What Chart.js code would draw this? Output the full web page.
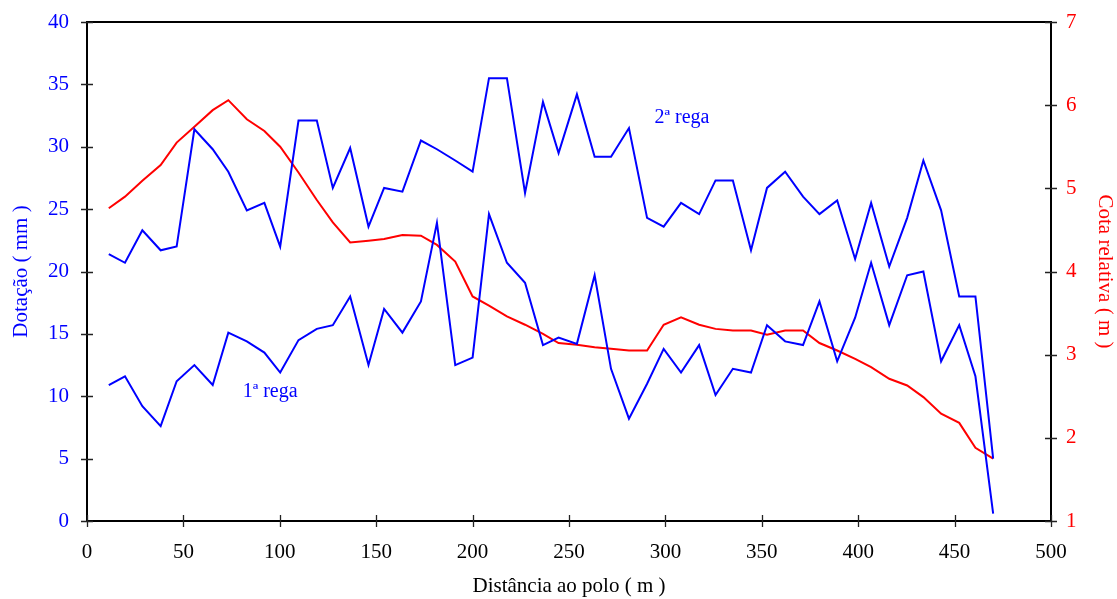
<!DOCTYPE html>
<html>
<head>
<meta charset="utf-8">
<title>Dotação e cota relativa</title>
<script src="https://cdn.jsdelivr.net/npm/chart.js@4/dist/chart.umd.min.js"></script>
<style>
    html, body { margin: 0; padding: 0; background: #fff; }
    #grafico { display: block; }
</style>
</head>
<body>
<canvas id="grafico" width="1117" height="599"></canvas>
<script>
//  Distância ao polo (m) de cada ponto de medição
const distancia = [11.3, 19.7, 28.7, 38.2, 46.5, 55.7, 65.2, 73.3, 82.9, 92, 100.2, 109.7, 119.2,
    127.5, 136.5, 146, 154.1, 163.6, 173.2, 181.5, 191, 200, 208.5, 217.8, 227.2, 236.5,
    244.6, 254.1, 263.3, 271.8, 281.1, 290.5, 299.1, 308.1, 317.5, 326, 335, 344.4, 352.7,
    362.1, 371.4, 379.9, 389.1, 398.4, 406.7, 416.1, 425.4, 433.8, 443, 452.4, 460.8, 470];

//  Dotação (mm) - 1ª rega
const rega1 = [10.9, 11.6, 9.2, 7.6, 11.2, 12.5, 10.9, 15.1, 14.4, 13.5, 11.9, 14.5, 15.4,
    15.7, 18.0, 12.5, 17.0, 15.1, 17.6, 23.9, 12.5, 13.1, 24.6, 20.7, 19.1, 14.1,
    14.7, 14.2, 19.7, 12.2, 8.2, 11.0, 13.8, 11.9, 14.1, 10.1, 12.2, 11.9, 15.7,
    14.4, 14.1, 17.6, 12.8, 16.3, 20.7, 15.7, 19.7, 20.0, 12.8, 15.7, 11.6, 0.6];

//  Dotação (mm) - 2ª rega
const rega2 = [21.4, 20.7, 23.3, 21.7, 22.0, 31.4, 29.8, 28.0, 24.9, 25.5, 22.0, 32.1, 32.1,
    26.7, 29.9, 23.6, 26.7, 26.4, 30.5, 29.8, 28.9, 28.0, 35.5, 35.5, 26.3, 33.6,
    29.5, 34.2, 29.2, 29.2, 31.5, 24.3, 23.6, 25.5, 24.6, 27.3, 27.3, 21.7, 26.7,
    28.0, 26.0, 24.6, 25.7, 21.0, 25.5, 20.4, 24.3, 28.9, 24.9, 18.0, 18.0, 5.0];

//  Cota relativa (m)
const cota = [4.76, 4.90, 5.09, 5.28, 5.55, 5.74, 5.94, 6.06, 5.83, 5.69, 5.50, 5.19, 4.86,
    4.59, 4.35, 4.37, 4.39, 4.44, 4.43, 4.32, 4.12, 3.70, 3.59, 3.46, 3.36, 3.25,
    3.14, 3.12, 3.09, 3.07, 3.05, 3.05, 3.36, 3.45, 3.36, 3.31, 3.29, 3.29, 3.24,
    3.29, 3.29, 3.14, 3.05, 2.95, 2.85, 2.71, 2.63, 2.49, 2.29, 2.18, 1.88, 1.75];

//  Rótulos das curvas: texto, distância, dotação
const rotulos = [
    ['2ª rega', 308.6, 32.3],
    ['1ª rega', 95, 10.4]
];

const AZUL = '#0000ff';
const VERMELHO = '#ff0000';
const FONTE = "'Liberation Serif', 'Times New Roman', serif";

function pontos(valores) {
    return distancia.map((d, i) => ({ x: d, y: valores[i] }));
}

//  Traços que cruzam os eixos + linha de cima da moldura
const tracos = {
    id: 'tracos',
    afterDraw(chart) {
        const { ctx, chartArea: { top, left, right, bottom }, scales } = chart;
        ctx.save();
        ctx.strokeStyle = '#000';
        ctx.lineWidth = 2;
        ctx.beginPath();
        ctx.moveTo(left - 1, top);
        ctx.lineTo(right + 1, top);
        ctx.stroke();

        ctx.lineWidth = 1.3;
        ctx.strokeStyle = '#222';
        ctx.beginPath();
        scales.x.ticks.forEach(t => {
            const px = Math.round(scales.x.getPixelForValue(t.value)) + 0.5;
            ctx.moveTo(px, bottom - 6);
            ctx.lineTo(px, bottom + 6);
        });
        scales.y.ticks.forEach(t => {
            const py = Math.round(scales.y.getPixelForValue(t.value)) + 0.5;
            ctx.moveTo(left - 6, py);
            ctx.lineTo(left + 6, py);
        });
        scales.y2.ticks.forEach(t => {
            const py = Math.round(scales.y2.getPixelForValue(t.value)) + 0.5;
            ctx.moveTo(right - 6, py);
            ctx.lineTo(right + 6, py);
        });
        ctx.stroke();

        //  nomes das regas
        ctx.font = '20px ' + FONTE;
        ctx.fillStyle = AZUL;
        ctx.textAlign = 'center';
        ctx.textBaseline = 'middle';
        rotulos.forEach(([txt, dx, dy]) => {
            ctx.fillText(txt, scales.x.getPixelForValue(dx), scales.y.getPixelForValue(dy));
        });
        ctx.restore();
    }
};

//  largura fixa dos eixos verticais, sem folga extra em cima/baixo
function eixoVertical(largura) {
    return function(s) {
        s.width = largura;
        s.paddingTop = 0;
        s.paddingBottom = 0;
    };
}

const config = {
    type: 'line',
    data: {
        datasets: [
            { label: '1ª rega', data: pontos(rega1), borderColor: AZUL, yAxisID: 'y' },
            { label: '2ª rega', data: pontos(rega2), borderColor: AZUL, yAxisID: 'y' },
            { label: 'Cota relativa', data: pontos(cota), borderColor: VERMELHO, yAxisID: 'y2' }
        ]
    },
    options: {
        responsive: false,
        animation: false,
        layout: { padding: { top: 22, left: 0, right: 0, bottom: 0 } },
        elements: {
            line: { borderWidth: 2, tension: 0, fill: false },
            point: { radius: 0 }
        },
        plugins: {
            legend: { display: false },
            tooltip: { enabled: false }
        },
        scales: {
            x: {
                type: 'linear',
                position: 'bottom',
                min: 0, max: 500,
                afterFit(s) { s.height = 78; s.paddingLeft = 0; s.paddingRight = 0; },
                grid: { display: false, drawTicks: false },
                border: { display: true, color: '#000', width: 2 },
                ticks: { stepSize: 50, padding: 19, color: '#000', font: { family: FONTE, size: 21 }, maxRotation: 0 },
                title: { display: true, text: 'Distância ao polo ( m )', color: '#000',
                         font: { family: FONTE, size: 21 }, padding: { top: 0, bottom: 0 } }
            },
            y: {
                position: 'left',
                min: 0, max: 40,
                afterFit: eixoVertical(87),
                grid: { display: false, drawTicks: false },
                border: { display: true, color: '#000', width: 2 },
                ticks: { stepSize: 5, padding: 18, color: AZUL, font: { family: FONTE, size: 21 } },
                title: { display: true, text: 'Dotação ( mm )', color: AZUL,
                         font: { family: FONTE, size: 21 }, padding: { top: 9, bottom: 0 } }
            },
            y2: {
                position: 'right',
                min: 1, max: 7,
                afterFit: eixoVertical(66),
                grid: { display: false, drawTicks: false },
                border: { display: true, color: '#000', width: 2 },
                ticks: { stepSize: 1, padding: 15, color: VERMELHO, font: { family: FONTE, size: 21 } },
                title: { display: true, text: 'Cota relativa ( m )', color: VERMELHO,
                         font: { family: FONTE, size: 21 }, padding: { top: 0, bottom: 5 } }
            }
        }
    },
    plugins: [tracos]
};

new Chart(document.getElementById('grafico'), config);
</script>
</body>
</html>
